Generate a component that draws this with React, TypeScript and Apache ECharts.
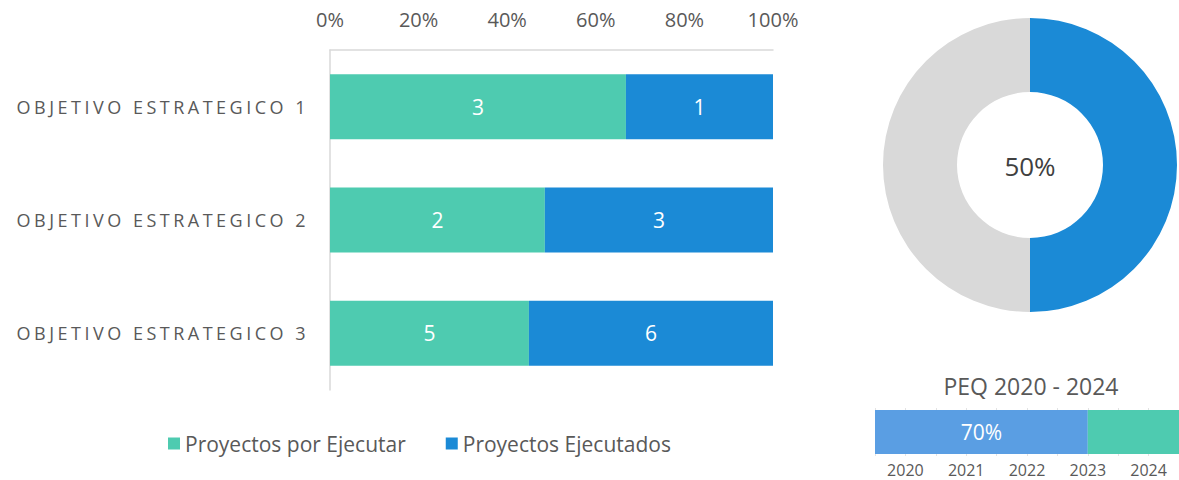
import React, { useEffect, useRef } from "react";
import * as echarts from "echarts";

const categories = ["OBJETIVO ESTRATEGICO 1", "OBJETIVO ESTRATEGICO 2", "OBJETIVO ESTRATEGICO 3"];
const seriesNames = ["Proyectos por Ejecutar", "Proyectos Ejecutados"];
const porEjecutarShare = [66.8, 48.5, 44.9];
const ejecutadosShare = [33.2, 51.5, 55.1];
const porEjecutarCount = [3, 2, 5];
const ejecutadosCount = [1, 3, 6];
const donutNames = ["Ejecutado", "Pendiente"];
const donutValues = [50, 50];
const peqTitle = "PEQ 2020 - 2024";
const peqCategory = ["PEQ"];
const peqValues = [70, 30];
const peqLabel = "70%";
const yearMin = 2019.5;
const yearMax = 2024.5;

const TEAL = "#4ECBB0";
const BLUE = "#1B8AD6";
const LIGHTBLUE = "#5A9EE3";
const GRAY = "#D9D9D9";
const TEXT = "#595959";
const FONT = "'Open Sans', sans-serif";

export default function App() {
  const ref = useRef<HTMLDivElement>(null);
  useEffect(() => {
    document.body.style.margin = "0";
    if (!ref.current) return;
    const chart = echarts.init(ref.current, undefined, { renderer: "svg" });
    const option: any = {
      animation: false,
      textStyle: { fontFamily: FONT },
      grid: [
        { left: 330, top: 50, width: 443, height: 340 },
        { left: 875, top: 408, width: 314, height: 48 },
      ],
      legend: {
        data: seriesNames,
        left: 163,
        top: 428,
        icon: "rect",
        itemWidth: 12,
        itemHeight: 12,
        itemGap: 40,
        textStyle: { color: TEXT, fontSize: 21, fontFamily: FONT },
      },
      xAxis: [
        {
          gridIndex: 0,
          type: "value",
          position: "top",
          min: 0,
          max: 100,
          interval: 20,
          axisLabel: { formatter: "{value}%", color: TEXT, fontSize: 20, margin: 21 },
          axisLine: { show: true, lineStyle: { color: GRAY, width: 1.5 } },
          axisTick: { show: false },
          splitLine: { show: false },
        },
        { gridIndex: 1, type: "value", min: 0, max: 100, show: false },
        {
          gridIndex: 1,
          type: "value",
          position: "bottom",
          min: yearMin,
          max: yearMax,
          interval: 0.5,
          axisLabel: {
            formatter: (v: number) => (Number.isInteger(v) ? String(v) : ""),
            color: TEXT,
            fontSize: 16,
            margin: 6,
            hideOverlap: false,
            showMaxLabel: false,
          },
          axisLine: { show: false },
          axisTick: { show: false },
          splitLine: { show: true, lineStyle: { color: "#E3E3E3" } },
        },
      ],
      yAxis: [
        {
          gridIndex: 0,
          type: "category",
          data: categories,
          inverse: true,
          axisLine: { show: true, lineStyle: { color: GRAY, width: 1.5 } },
          axisTick: { show: false },
          axisLabel: { color: TEXT, fontSize: 18, margin: 21 },
        },
        { gridIndex: 1, type: "category", data: peqCategory, show: false },
      ],
      series: [
        {
          type: "bar",
          name: seriesNames[0],
          stack: "obj",
          xAxisIndex: 0,
          yAxisIndex: 0,
          data: porEjecutarShare,
          barWidth: 65,
          itemStyle: { color: TEAL },
          label: {
            show: true,
            position: "inside",
            color: "#fff",
            fontSize: 21,
            formatter: (p: any) => String(porEjecutarCount[p.dataIndex]),
          },
        },
        {
          type: "bar",
          name: seriesNames[1],
          stack: "obj",
          xAxisIndex: 0,
          yAxisIndex: 0,
          data: ejecutadosShare,
          barWidth: 65,
          itemStyle: { color: BLUE },
          label: {
            show: true,
            position: "inside",
            color: "#fff",
            fontSize: 21,
            formatter: (p: any) => String(ejecutadosCount[p.dataIndex]),
          },
        },
        {
          type: "bar",
          name: "PEQ ejecutado",
          stack: "peq",
          xAxisIndex: 1,
          yAxisIndex: 1,
          data: [peqValues[0]],
          barWidth: 44,
          itemStyle: { color: LIGHTBLUE },
          label: { show: true, position: "inside", color: "#fff", fontSize: 21, formatter: peqLabel },
        },
        {
          type: "bar",
          name: "PEQ pendiente",
          stack: "peq",
          xAxisIndex: 1,
          yAxisIndex: 1,
          data: [peqValues[1]],
          barWidth: 44,
          itemStyle: { color: TEAL },
        },
        {
          type: "pie",
          center: [1030, 165],
          radius: [73, 147],
          startAngle: 90,
          clockwise: true,
          label: { show: false },
          labelLine: { show: false },
          silent: true,
          data: donutNames.map((n, i) => ({
            name: n,
            value: donutValues[i],
            itemStyle: { color: i === 0 ? BLUE : GRAY },
          })),
        },
      ],
      graphic: [
        {
          type: "text",
          x: 1030,
          y: 166,
          style: {
            text: `${donutValues[0]}%`,
            fill: "#404040",
            font: `26px ${FONT}`,
            align: "center",
            verticalAlign: "middle",
          },
        },
        {
          type: "text",
          x: 1031,
          y: 386,
          style: {
            text: peqTitle,
            fill: TEXT,
            font: `23px ${FONT}`,
            align: "center",
            verticalAlign: "middle",
          },
        },
      ],
    };
    chart.setOption(option);
    const texts = ref.current.querySelectorAll("text");
    texts.forEach((t) => {
      if ((t.textContent || "").startsWith("OBJETIVO")) {
        t.setAttribute("letter-spacing", "3.5px");
      }
    });
    return () => chart.dispose();
  }, []);
  return <div ref={ref} style={{ width: 1179, height: 480 }} />;
}
